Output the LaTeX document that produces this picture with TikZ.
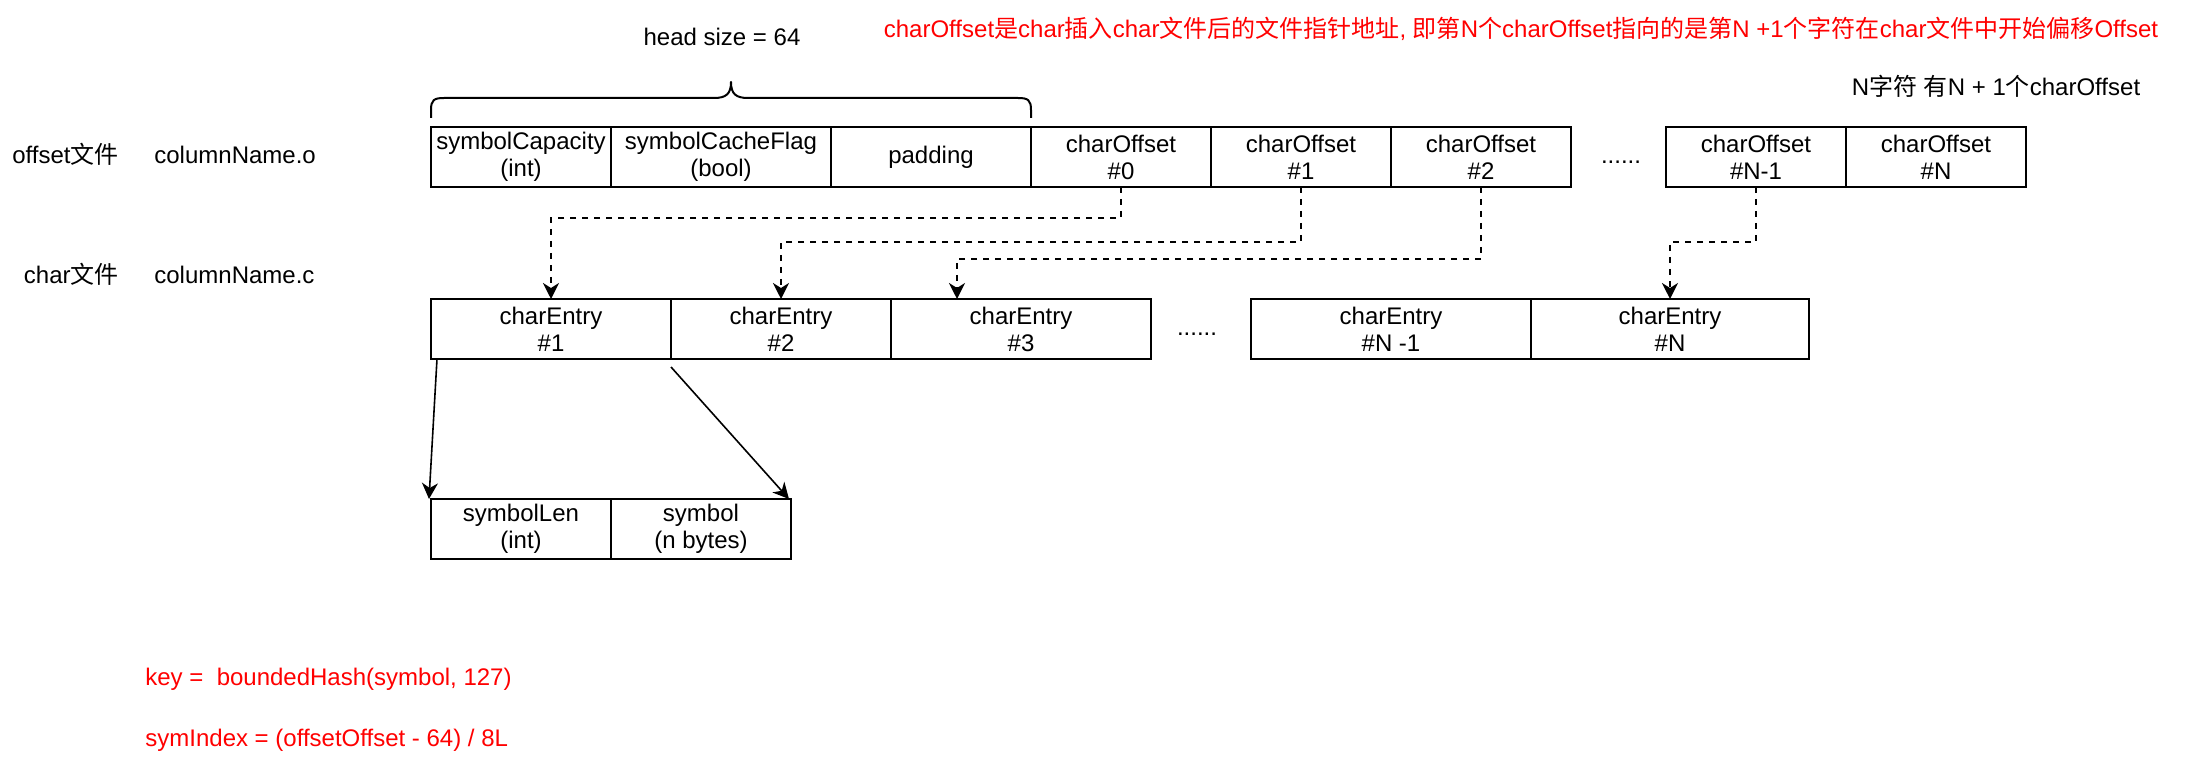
\documentclass[tikz,border=0pt]{standalone}
\usepackage{fontspec}
\setmainfont{Liberation Sans}
\newfontfamily\cjk{Noto Sans CJK SC}
\usetikzlibrary{positioning, arrows.meta}
\definecolor{notered}{HTML}{FF0000}

\begin{document}
\begin{tikzpicture}[
  x=0.5pt, y=-0.5pt,
  font=\fontsize{12}{13.5}\selectfont,
  cell/.style={rectangle, draw, line width=1pt, outer sep=0pt, inner sep=0pt, minimum height=30pt, align=center},
  filelabel/.style={inner sep=0pt},
  note/.style={text=notered, inner sep=0pt},
  hdots/.style={inner sep=0pt, anchor=base},
  % pointer from a charOffset to its charEntry
  ptrarrow/.style={draw, line width=1pt, dash pattern=on 3pt off 3pt, -{Stealth[length=8pt, width=8pt, inset=2.5pt]}},
  fieldarrow/.style={draw, line width=0.8pt, -{Stealth[length=8pt, width=8pt, inset=2.5pt]}}
]

\useasboundingbox (0,0) rectangle (2192,770);

% ============================================
% NOTES
% ============================================
\node[note, anchor=base] (ptrnote) at (1521,38) {charOffset{\cjk 是}char{\cjk 插入}char{\cjk 文件后的文件指针地址}, {\cjk 即第}N{\cjk 个}charOffset{\cjk 指向的是第}N +1{\cjk 个字符在}char{\cjk 文件中开始偏移}Offset};
\node[inner sep=0pt, anchor=base] (countnote) at (1996,96) {N{\cjk 字符} {\cjk 有}N + 1{\cjk 个}charOffset};
\node[inner sep=0pt, anchor=base] (headsize) at (722,46) {head size = 64};

% ============================================
% OFFSET FILE (columnName.o)
% ============================================
\node[filelabel, anchor=base east] (offsetfile) at (119,164) {offset{\cjk 文件}};
\node[filelabel, anchor=base west] (offsetname) at (154,164) {columnName.o};

\node[cell, minimum width=90pt, anchor=north west] (capacity) at (431,127) {symbolCapacity\\(int)};
\node[cell, minimum width=110pt, right=0pt of capacity] (cacheflag) {symbolCacheFlag\\(bool)};
\node[cell, minimum width=100pt, right=0pt of cacheflag] (padding) {padding};
\node[cell, minimum width=90pt, right=0pt of padding] (off0) {charOffset\\\#0};
\node[cell, minimum width=90pt, right=0pt of off0] (off1) {charOffset\\\#1};
\node[cell, minimum width=90pt, right=0pt of off1] (off2) {charOffset\\\#2};
\node[hdots] (offdots) at (1621,164) {......};
\node[cell, minimum width=90pt, anchor=north west] (offn1) at (1666,127) {charOffset\\\#N-1};
\node[cell, minimum width=90pt, right=0pt of offn1] (offn) {charOffset\\\#N};

% head brace over the first three fields
\draw[line width=1pt, line join=round] (431,118) -- (431,110) .. controls (431,100) and (434,98) .. (444,98)
  -- (714,98) .. controls (726,98) and (731,94) .. (731,82)
  .. controls (731,94) and (736,98) .. (748,98)
  -- (1018,98) .. controls (1028,98) and (1031,100) .. (1031,110) -- (1031,118);

% ============================================
% CHAR FILE (columnName.c)
% ============================================
\node[filelabel, anchor=base east] (charfile) at (119,284) {char{\cjk 文件}};
\node[filelabel, anchor=base west] (charname) at (154,284) {columnName.c};

\node[cell, minimum width=120pt, anchor=north west] (entry1) at (431,299) {charEntry\\\#1};
\node[cell, minimum width=110pt, right=0pt of entry1] (entry2) {charEntry\\\#2};
\node[cell, minimum width=130pt, right=0pt of entry2] (entry3) {charEntry\\\#3};
\node[hdots] (entrydots) at (1197,336) {......};
\node[cell, minimum width=140pt, anchor=north west] (entryn1) at (1251,299) {charEntry\\\#N -1};
\node[cell, minimum width=139pt, right=0pt of entryn1] (entryn) {charEntry\\\#N};
\coordinate (entry3in) at ([xshift=33pt]entry3.north west);

% offset pointers
\draw[ptrarrow] (off0.south) -- ++(0,31) -| (entry1.north);
\draw[ptrarrow] (off1.south) -- ++(0,55) -| (entry2.north);
\draw[ptrarrow] (off2.south) -- ++(0,72) -| (entry3in);
\draw[ptrarrow] (offn1.south) -- ++(0,55) -| (entryn.north);

% ============================================
% ENTRY LAYOUT
% ============================================
\node[cell, minimum width=90pt, anchor=north west] (symlen) at (431,499) {symbolLen\\(int)};
\node[cell, minimum width=90pt, right=0pt of symlen] (symbol) {symbol\\(n bytes)};

\draw[fieldarrow] ([xshift=3pt]entry1.south west) -- ([xshift=-1pt]symlen.north west);
\draw[fieldarrow] ([yshift=-4pt]entry1.south east) -- ([xshift=-1pt]symbol.north east);

% formulas
\node[note, anchor=base west] (keynote) at (145,685) {key =\ \ boundedHash(symbol, 127)};
\node[note, anchor=base west] (indexnote) at (145,746) {symIndex = (offsetOffset - 64) / 8L};

\end{tikzpicture}
\end{document}
